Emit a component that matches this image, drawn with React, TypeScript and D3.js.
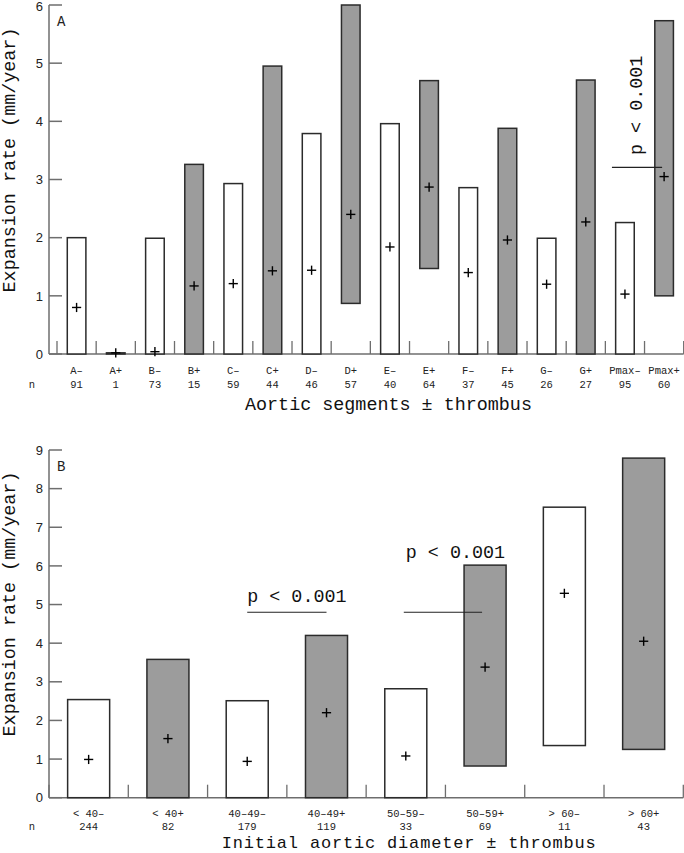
import React from "react";
import * as d3 from "d3";

// Panel A: aortic segments ± thrombus
const segCategories = ["A–", "A+", "B–", "B+", "C–", "C+", "D–", "D+", "E–", "E+", "F–", "F+", "G–", "G+", "Pmax–", "Pmax+"];
const segN = [91, 1, 73, 15, 59, 44, 46, 57, 40, 64, 37, 45, 26, 27, 95, 60];
const segLow = [0, 0, 0, 0, 0, 0, 0, 0.87, 0, 1.47, 0, 0, 0, 0, 0, 1.0];
const segHigh = [2.0, 0.02, 1.99, 3.26, 2.93, 4.95, 3.79, 6.0, 3.96, 4.7, 2.86, 3.88, 1.99, 4.71, 2.26, 5.73];
const segMean = [0.8, 0.02, 0.04, 1.17, 1.21, 1.43, 1.44, 2.4, 1.84, 2.87, 1.4, 1.96, 1.2, 2.27, 1.03, 3.05];
const segTicks = [0, 1, 2, 3, 4, 5, 6];

// Panel B: initial aortic diameter ± thrombus
const diaCategories = ["< 40–", "< 40+", "40–49–", "40–49+", "50–59–", "50–59+", "> 60–", "> 60+"];
const diaN = [244, 82, 179, 119, 33, 69, 11, 43];
const diaLow = [0, 0, 0, 0, 0, 0.82, 1.35, 1.25];
const diaHigh = [2.54, 3.58, 2.51, 4.2, 2.82, 6.02, 7.52, 8.79];
const diaMean = [0.99, 1.53, 0.94, 2.2, 1.08, 3.38, 5.29, 4.05];
const diaTicks = [0, 1, 2, 3, 4, 5, 6, 7, 8, 9];

const MONO = "'Liberation Mono', 'Courier New', 'DejaVu Sans Mono', monospace";
const SANS = "'Liberation Sans', Arial, Helvetica, sans-serif";
const AXIS = "#6e6e6e";
const BAR_STROKE = "#2b2b2b";
const GRAY = "#9c9c9c";

type PanelProps = {
  cats: string[];
  ns: number[];
  low: number[];
  high: number[];
  mean: number[];
  ticks: number[];
  x: d3.ScaleBand<string>;
  y: d3.ScaleLinear<number, number>;
  barFrac: number;
  letter: string;
  catY: number;
  nY: number;
};

function Panel({ cats, ns, low, high, mean, ticks, x, y, barFrac, letter, catY, nY }: PanelProps) {
  const bw = x.bandwidth();
  const barW = bw * barFrac;
  const [r0, r1] = x.range();
  const y0 = y(0);
  const yTop = y(ticks[ticks.length - 1]);
  const boundaries = [r0, ...cats.map((c) => (x(c) as number) + bw)];
  return (
    <g>
      {/* y axis */}
      <line x1={49} x2={49} y1={yTop} y2={y0} stroke={AXIS} strokeWidth={1.5} />
      {ticks.map((t) => (
        <g key={t}>
          <line x1={49} x2={62} y1={y(t)} y2={y(t)} stroke={AXIS} strokeWidth={1.5} />
          <text
            x={43}
            y={Math.max(y(t), 6.5)}
            dy="0.36em"
            textAnchor="end"
            fontFamily={SANS}
            fontSize={13}
            fill="#222"
          >
            {t}
          </text>
        </g>
      ))}
      {/* x axis */}
      <line x1={49} x2={r1} y1={y0} y2={y0} stroke={AXIS} strokeWidth={1.5} />
      {boundaries.map((bx, i) => (
        <line key={i} x1={bx} x2={bx} y1={y0 - 13} y2={y0} stroke={AXIS} strokeWidth={1.3} />
      ))}
      <text x={57} y={yTop + 21} fontFamily={MONO} fontSize={14} fill="#222">
        {letter}
      </text>
      {/* bars */}
      {cats.map((c, i) => {
        const cx = (x(c) as number) + bw / 2;
        const thr = c.endsWith("+");
        const top = y(high[i]);
        const bot = y(low[i]);
        const my = y(mean[i]);
        return (
          <g key={c}>
            <rect
              x={cx - barW / 2}
              y={top}
              width={barW}
              height={Math.max(bot - top, 0.5)}
              fill={thr ? GRAY : "#fff"}
              stroke={BAR_STROKE}
              strokeWidth={1.5}
            />
            <line x1={cx - 4.6} x2={cx + 4.6} y1={my} y2={my} stroke="#000" strokeWidth={1.4} />
            <line x1={cx} x2={cx} y1={my - 4.6} y2={my + 4.6} stroke="#000" strokeWidth={1.4} />
            <text x={cx} y={catY} textAnchor="middle" fontFamily={MONO} fontSize={10.5} fill="#222">
              {c}
            </text>
            <text x={cx} y={nY} textAnchor="middle" fontFamily={MONO} fontSize={10.5} fill="#222">
              {ns[i]}
            </text>
          </g>
        );
      })}
      <text x={32} y={nY} textAnchor="middle" fontFamily={MONO} fontSize={10.5} fill="#222">
        n
      </text>
    </g>
  );
}

export default function App() {
  const xA = d3.scaleBand<string>().domain(segCategories).range([57, 683.7]).padding(0);
  const yA = d3.scaleLinear().domain([0, 6]).range([354, 5]);
  const xB = d3.scaleBand<string>().domain(diaCategories).range([49, 683.3]).padding(0);
  const yB = d3.scaleLinear().domain([0, 9]).range([797.7, 450]);

  const cA = (c: string) => (xA(c) as number) + xA.bandwidth() / 2;
  const cB = (c: string) => (xB(c) as number) + xB.bandwidth() / 2;

  return (
    <svg
      width={684}
      height={853}
      style={{ position: "absolute", left: 0, top: 0, background: "#fff" }}
    >
      <rect x={0} y={0} width={684} height={853} fill="#fff" />
      <Panel
        cats={segCategories}
        ns={segN}
        low={segLow}
        high={segHigh}
        mean={segMean}
        ticks={segTicks}
        x={xA}
        y={yA}
        barFrac={0.475}
        letter="A"
        catY={373.5}
        nY={387.5}
      />
      <text
        transform="translate(15,160) rotate(-90)"
        textAnchor="middle"
        fontFamily={MONO}
        fontSize={18.4}
        fill="#111"
      >
        Expansion rate (mm/year)
      </text>
      <text x={245} y={409.5} fontFamily={MONO} fontSize={18.4} fill="#111">
        Aortic segments ± thrombus
      </text>
      {/* p annotation panel A */}
      <line x1={cA("Pmax–") - 13} x2={cA("Pmax+") - 2} y1={yA(3.21)} y2={yA(3.21)} stroke="#222" strokeWidth={1.2} />
      <text
        transform={`translate(642,155) rotate(-90)`}
        fontFamily={MONO}
        fontSize={18.4}
        fill="#111"
      >
        p &lt; 0.001
      </text>

      <Panel
        cats={diaCategories}
        ns={diaN}
        low={diaLow}
        high={diaHigh}
        mean={diaMean}
        ticks={diaTicks}
        x={xB}
        y={yB}
        barFrac={0.53}
        letter="B"
        catY={816.5}
        nY={830}
      />
      <text
        transform="translate(15,604) rotate(-90)"
        textAnchor="middle"
        fontFamily={MONO}
        fontSize={18.4}
        fill="#111"
      >
        Expansion rate (mm/year)
      </text>
      <text
        x={221.7}
        y={848}
        fontFamily={MONO}
        fontSize={17}
        textLength={374}
        lengthAdjust="spacing"
        fill="#111"
      >
        Initial aortic diameter ± thrombus
      </text>
      {/* p annotations panel B */}
      <line x1={cB("40–49–")} x2={cB("40–49+")} y1={yB(4.8)} y2={yB(4.8)} stroke="#222" strokeWidth={1.2} />
      <text x={cB("40–49–")} y={yB(5.07)} fontFamily={MONO} fontSize={18.4} fill="#111">
        p &lt; 0.001
      </text>
      <line x1={cB("50–59–") - 2} x2={cB("50–59+") - 3} y1={yB(4.8)} y2={yB(4.8)} stroke="#222" strokeWidth={1.2} />
      <text x={cB("50–59–")} y={yB(6.2)} fontFamily={MONO} fontSize={18.4} fill="#111">
        p &lt; 0.001
      </text>
    </svg>
  );
}
